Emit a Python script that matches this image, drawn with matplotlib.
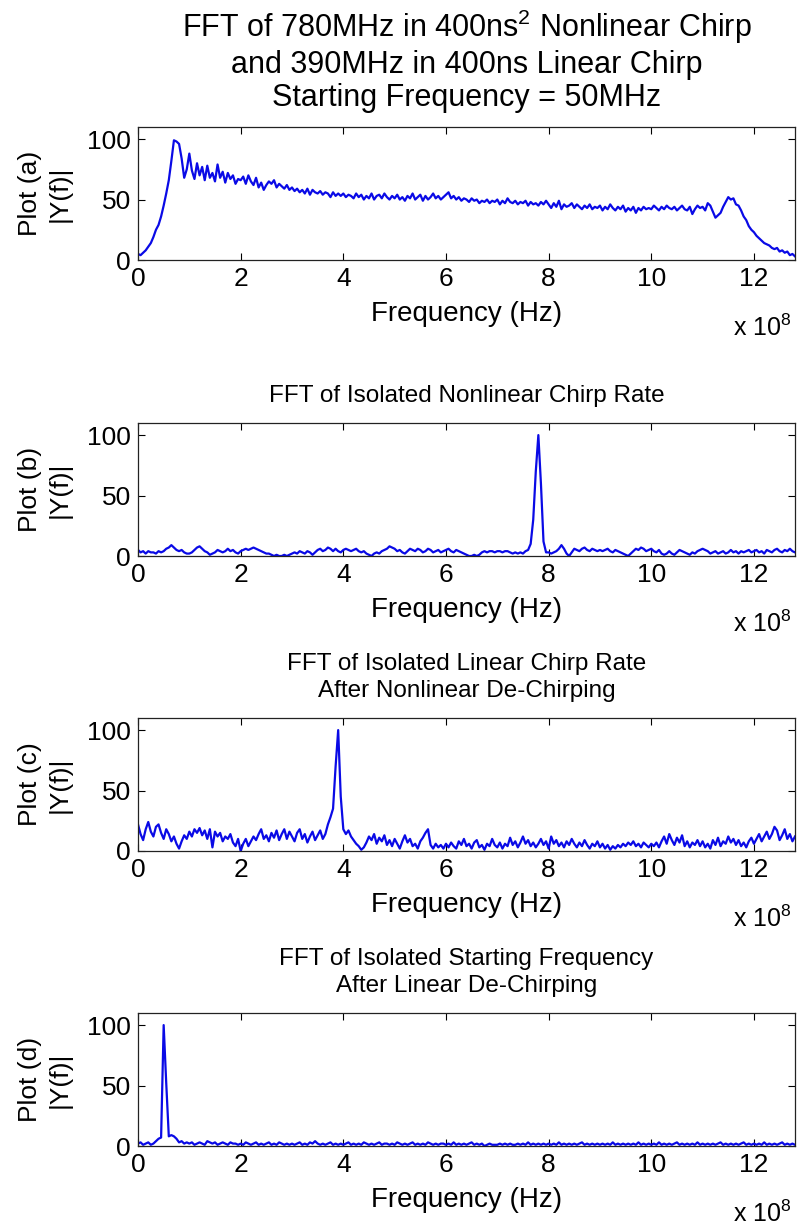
import numpy as np
import matplotlib
matplotlib.use("Agg")
import matplotlib.pyplot as plt

plt.rcParams['font.family'] = ['Liberation Sans', 'DejaVu Sans']
plt.rcParams['mathtext.fontset'] = 'custom'
plt.rcParams['mathtext.rm'] = 'Liberation Sans'
plt.rcParams['mathtext.it'] = 'Liberation Sans:italic'

# Frequency sampling of every spectrum, in units of 1e8 Hz (0.05 steps)
freq_e8 = np.round(np.arange(0, 12.8001, 0.05), 2)

# |Y(f)| of the combined chirp (nonlinear + linear + start frequency)
mag_a = [
    5, 4, 6, 8, 11, 14, 19, 25, 29, 36, 45, 55, 66, 82, 99, 98, 96, 84, 68, 75,
    88, 74, 67, 80, 70, 77, 66, 78, 68, 72, 65, 79, 68, 73, 64, 72, 67, 70, 63, 67,
    66, 69, 63, 70, 65, 62, 68, 60, 64, 58, 62, 65, 63, 66, 60, 63, 61, 59, 62, 58,
    60, 57, 59, 56, 58, 55, 59, 54, 58, 56, 55, 57, 54, 56, 55, 52, 56, 53, 55, 53,
    55, 52, 54, 53, 51, 55, 52, 54, 50, 53, 51, 55, 50, 53, 54, 51, 55, 52, 50, 53,
    51, 54, 50, 52, 49, 53, 51, 55, 50, 52, 54, 49, 53, 50, 52, 55, 51, 53, 50, 52,
    54, 56, 51, 53, 50, 52, 49, 51, 50, 48, 51, 49, 50, 47, 49, 48, 50, 47, 49, 48,
    50, 46, 49, 47, 51, 48, 47, 49, 46, 48, 47, 49, 45, 48, 46, 47, 45, 48, 46, 49,
    46, 43, 47, 44, 49, 42, 46, 44, 45, 47, 43, 46, 44, 42, 45, 43, 46, 42, 44, 43,
    45, 41, 44, 42, 46, 43, 41, 44, 42, 45, 40, 43, 41, 44, 39, 43, 41, 44, 42, 43,
    42, 45, 43, 41, 44, 42, 45, 43, 42, 44, 41, 43, 45, 42, 41, 44, 38, 42, 45, 43,
    44, 41, 47, 45, 40, 35, 37, 39, 44, 48, 52, 50, 51, 46, 45, 41, 36, 33, 28, 25,
    23, 20, 18, 16, 14, 13, 12, 10, 9, 10, 7, 8, 6, 7, 4, 5, 3,
]

# |Y(f)| after isolating the nonlinear chirp rate
mag_b = [
    5, 3, 4, 2, 4, 3, 3, 2, 4, 3, 4, 6, 7, 9, 7, 5, 4, 5, 3, 2,
    2, 3, 5, 7, 8, 6, 4, 3, 1, 2, 3, 5, 4, 3, 4, 6, 4, 5, 3, 2,
    4, 5, 6, 5, 6, 7, 6, 5, 4, 3, 2, 2, 1, 0, 1, 0, 0, 1, 0, 1,
    2, 3, 2, 4, 3, 2, 4, 3, 1, 3, 5, 6, 4, 5, 7, 6, 4, 6, 4, 3,
    5, 6, 5, 4, 5, 6, 4, 3, 4, 2, 1, 0, 2, 3, 2, 4, 5, 6, 8, 7,
    6, 4, 5, 3, 2, 4, 6, 5, 4, 6, 5, 3, 4, 6, 5, 3, 4, 5, 3, 4,
    5, 6, 4, 3, 5, 4, 3, 2, 1, 0, 0, 1, 0, 1, 3, 4, 3, 4, 4, 3,
    4, 4, 3, 4, 4, 3, 2, 3, 2, 3, 2, 4, 5, 10, 30, 70, 100, 60, 12, 3,
    3, 2, 3, 4, 6, 9, 6, 2, 0, 3, 6, 5, 4, 6, 7, 5, 4, 6, 5, 4,
    5, 4, 5, 6, 4, 3, 5, 4, 3, 2, 1, 0, 2, 4, 6, 5, 7, 6, 4, 5,
    6, 4, 3, 5, 2, 1, 2, 4, 2, 1, 3, 5, 4, 3, 2, 1, 3, 2, 4, 5,
    6, 5, 4, 2, 3, 4, 2, 3, 4, 2, 3, 5, 3, 4, 2, 4, 3, 4, 5, 3,
    4, 5, 3, 4, 2, 5, 4, 3, 5, 6, 4, 3, 5, 4, 6, 4, 3,
]

# |Y(f)| after nonlinear de-chirping (linear chirp rate)
mag_c = [
    22, 14, 9, 18, 24, 16, 12, 20, 22, 15, 10, 18, 14, 8, 12, 6, 2, 8, 13, 10,
    16, 12, 18, 15, 19, 13, 17, 10, 18, 3, 16, 12, 15, 8, 12, 10, 14, 7, 4, 10,
    0, 6, 10, 4, 8, 12, 9, 14, 18, 10, 13, 8, 15, 11, 17, 9, 14, 18, 10, 16,
    12, 8, 15, 18, 10, 14, 7, 12, 16, 9, 13, 17, 10, 14, 22, 28, 35, 70, 100, 45,
    18, 14, 17, 12, 9, 6, 4, 1, 3, 7, 12, 9, 14, 6, 11, 8, 13, 5, 9, 4,
    10, 6, 2, 8, 13, 7, 10, 4, 6, 2, 8, 11, 15, 18, 5, 2, 6, 3, 5, 2,
    6, 3, 7, 4, 2, 8, 5, 10, 4, 6, 2, 7, 9, 3, 5, 1, 6, 4, 10, 5,
    3, 7, 2, 6, 4, 11, 5, 8, 3, 7, 12, 6, 9, 4, 7, 3, 6, 10, 5, 8,
    2, 12, 6, 9, 4, 7, 3, 8, 5, 10, 6, 3, 7, 4, 9, 5, 2, 6, 4, 8,
    3, 6, 2, 5, 1, 4, 2, 5, 3, 6, 4, 7, 5, 8, 4, 6, 3, 7, 5, 3,
    6, 4, 7, 3, 8, 12, 6, 14, 9, 5, 11, 7, 13, 4, 8, 3, 7, 5, 9, 4,
    8, 3, 6, 2, 9, 5, 11, 4, 8, 6, 12, 7, 10, 5, 9, 4, 7, 3, 8, 11,
    6, 10, 14, 8, 12, 16, 10, 14, 20, 17, 9, 13, 18, 10, 14, 8, 12,
]

# |Y(f)| after linear de-chirping (starting frequency)
mag_d = [
    2, 3, 1, 2, 3, 1, 2, 4, 6, 7, 100, 52, 8, 9, 8, 6, 3, 4, 2, 3,
    2, 3, 1, 2, 3, 2, 1, 4, 3, 2, 3, 1, 2, 3, 2, 1, 3, 2, 2, 1,
    2, 1, 3, 2, 1, 2, 3, 1, 2, 1, 2, 3, 1, 2, 1, 3, 2, 1, 2, 1,
    2, 1, 2, 3, 1, 2, 1, 3, 2, 4, 2, 1, 2, 1, 2, 3, 1, 2, 1, 2,
    1, 2, 3, 1, 2, 1, 2, 1, 3, 2, 1, 2, 1, 2, 3, 1, 2, 2, 1, 2,
    1, 3, 2, 1, 2, 1, 2, 3, 1, 2, 1, 2, 1, 3, 2, 1, 2, 1, 2, 2,
    1, 2, 1, 3, 1, 2, 1, 2, 1, 2, 3, 1, 2, 1, 2, 0, 1, 2, 1, 1,
    1, 2, 1, 2, 1, 2, 1, 1, 2, 1, 2, 1, 3, 1, 2, 1, 2, 1, 2, 1,
    2, 1, 2, 1, 3, 1, 2, 1, 2, 1, 2, 1, 2, 3, 1, 2, 1, 2, 1, 2,
    1, 2, 1, 2, 1, 3, 1, 2, 1, 2, 1, 2, 1, 2, 1, 3, 1, 2, 1, 2,
    1, 2, 1, 3, 1, 2, 1, 2, 1, 2, 3, 1, 2, 1, 2, 1, 2, 1, 3, 1,
    2, 1, 2, 1, 2, 1, 2, 3, 1, 2, 1, 2, 1, 2, 1, 2, 3, 1, 2, 1,
    2, 1, 2, 1, 3, 1, 2, 1, 2, 1, 2, 3, 1, 2, 1, 2, 1,
]

panel_titles = [
    "FFT of 780MHz in 400ns$^{2}$ Nonlinear Chirp\nand 390MHz in 400ns Linear Chirp\nStarting Frequency = 50MHz",
    "FFT of Isolated Nonlinear Chirp Rate",
    "FFT of Isolated Linear Chirp Rate\nAfter Nonlinear De-Chirping",
    "FFT of Isolated Starting Frequency\nAfter Linear De-Chirping",
]
title_sizes = [22, 17.5, 17.5, 17.5]
title_spacing = [1.15, 1.3, 1.3, 1.3]
panel_ylabels = ["Plot (a)\n|Y(f)|", "Plot (b)\n|Y(f)|", "Plot (c)\n|Y(f)|", "Plot (d)\n|Y(f)|"]
x_tick_values_e8 = [0, 2, 4, 6, 8, 10, 12]
x_tick_labels = ["0", "2", "4", "6", "8", "10", "12"]
y_tick_values = [0, 50, 100]
spectra = [mag_a, mag_b, mag_c, mag_d]

W, H = 801, 1226
fig = plt.figure(figsize=(W / 100, H / 100), dpi=100)
fig.patch.set_facecolor("white")

left_px, right_px = 138, 795
tops_px = [127, 423, 718, 1013]
height_px = 133
fs = 19

freq_hz = freq_e8 * 1e8
for k, (mag, ttl, ylab) in enumerate(zip(spectra, panel_titles, panel_ylabels)):
    top = tops_px[k]
    ax = fig.add_axes([left_px / W, 1 - (top + height_px) / H,
                       (right_px - left_px) / W, height_px / H])
    ax.plot(freq_hz, mag, color="#0a0ae6", lw=1.6)
    ax.set_xlim(0, 12.8e8)
    ax.set_ylim(0, 110)
    ax.set_xticks([v * 1e8 for v in x_tick_values_e8])
    ax.set_xticklabels(x_tick_labels)
    ax.set_yticks(y_tick_values)
    ax.tick_params(direction="in", top=True, right=True, length=5,
                   width=0.8, labelsize=fs, pad=5)
    for s in ax.spines.values():
        s.set_linewidth(0.9)
        s.set_color("#222222")
    ax.set_title(ttl, fontsize=title_sizes[k], pad=15,
                 linespacing=title_spacing[k])
    ax.set_xlabel("Frequency (Hz)", fontsize=20, labelpad=7)
    ax.set_ylabel(ylab, fontsize=fs, linespacing=1.33, va="center")
    ax.yaxis.set_label_coords(-0.1416, 0.5)
    ax.text(0.995, -0.57, "x 10$^{8}$", transform=ax.transAxes,
            ha="right", va="baseline", fontsize=fs - 1)

fig.savefig("out.png", dpi=100, facecolor="white")
